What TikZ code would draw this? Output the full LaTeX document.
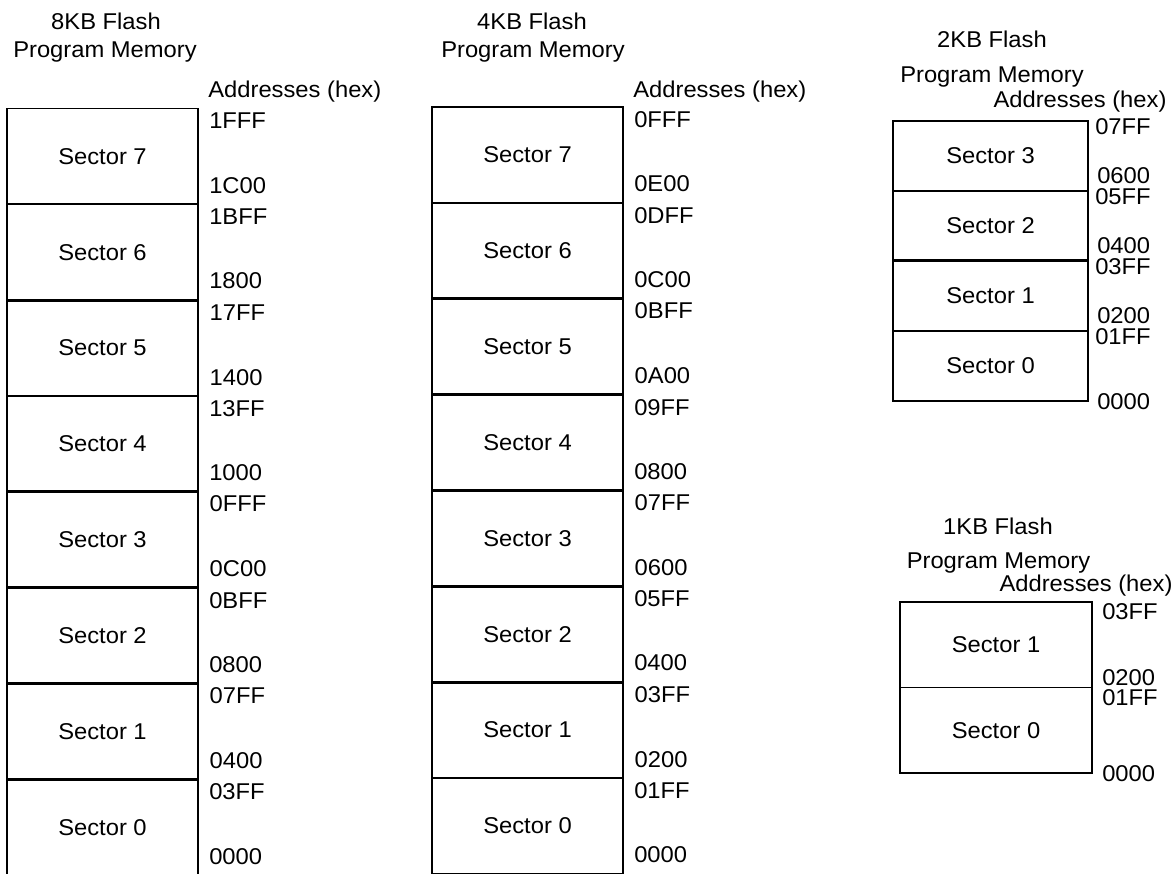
\documentclass[tikz,border=0pt]{standalone}
\usepackage{fontspec}
\setmainfont{Liberation Sans}[FakeStretch=1.04]
\usetikzlibrary{positioning}

\begin{document}
\begin{tikzpicture}[x=0.02cm, y=-0.02cm, font=\fontsize{13}{15}\selectfont,
    sector/.style={draw, line width=1.05pt, inner sep=0pt},
    heavy/.style={line width=1.6pt},
    addr/.style={inner sep=0pt},
    title/.style={inner sep=0pt, anchor=base}]
  \clip (0,0) rectangle (1174,874);

  % 8KB part
  \node[title] (t8a) at (106,30) {8KB Flash};
  \node[title] (t8b) at (105,58) {Program Memory};
  \node[title, anchor=base west] (h8) at (208,98) {Addresses (hex)};
  \foreach \i/\hi/\lo/\st [count=\k from 0] in
      {7/1FFF/1C00/{}, 6/1BFF/1800/{}, 5/17FF/1400/heavy, 4/13FF/1000/{},
       3/0FFF/0C00/heavy, 2/0BFF/0800/{}, 1/07FF/0400/heavy, 0/03FF/0000/{}} {
    \node[sector, \st, minimum width=3.82cm, minimum height=1.917cm]
      (k8s\i) at (102.5, 156.4+95.85*\k) {Sector \i};
    \node[addr, right=0.2cm of k8s\i.north east, yshift=-0.27cm] (k8h\i) {\hi};
    \node[addr, right=0.2cm of k8s\i.south east, yshift=0.4cm] (k8l\i) {\lo};
  }

  % 4KB part
  \node[title] (t4a) at (532,30) {4KB Flash};
  \node[title] (t4b) at (533,58) {Program Memory};
  \node[title, anchor=base west] (h4) at (633,98) {Addresses (hex)};
  \foreach \i/\hi/\lo/\st [count=\k from 0] in
      {7/0FFF/0E00/{}, 6/0DFF/0C00/{}, 5/0BFF/0A00/heavy, 4/09FF/0800/{},
       3/07FF/0600/heavy, 2/05FF/0400/{}, 1/03FF/0200/heavy, 0/01FF/0000/{}} {
    \node[sector, \st, minimum width=3.82cm, minimum height=1.917cm]
      (k4s\i) at (527.5, 155+95.85*\k) {Sector \i};
    \node[addr, right=0.2cm of k4s\i.north east, yshift=-0.27cm] (k4h\i) {\hi};
    \node[addr, right=0.2cm of k4s\i.south east, yshift=0.4cm] (k4l\i) {\lo};
  }

  % 2KB part
  \node[title] (t2a) at (992,48) {2KB Flash};
  \node[title] (t2b) at (992,83) {Program Memory};
  \node[title] (h2) at (1080,108) {Addresses (hex)};
  \foreach \i/\hi/\lo [count=\k from 0] in
      {3/07FF/0600, 2/05FF/0400, 1/03FF/0200, 0/01FF/{}} {
    \node[sector, minimum width=3.9cm, minimum height=1.4cm]
      (k2s\i) at (990.5, 156+70*\k) {Sector \i};
    \node[addr, right=0.12cm of k2s\i.north east, yshift=-0.14cm] (k2h\i) {\hi};
    \node[addr, right=0.16cm of k2s\i.south east, yshift=0.33cm] (k2l\i) {\lo};
  }
  \node[addr, right=0.16cm of k2s0.south east] (k2l0) {0000};
  \draw[heavy] (k2s1.north west) -- (k2s1.north east);

  % 1KB part
  \node[title] (t1a) at (998,535) {1KB Flash};
  \node[title] (t1b) at (998.5,569) {Program Memory};
  \node[title] (h1) at (1086,592) {Addresses (hex)};
  \foreach \i/\hi/\lo [count=\k from 0] in
      {1/03FF/0200, 0/01FF/{}} {
    \node[sector, minimum width=3.84cm, minimum height=1.71cm]
      (k1s\i) at (996, 644.75+85.5*\k) {Sector \i};
    \node[addr, right=0.18cm of k1s\i.north east, yshift=-0.22cm] (k1h\i) {\hi};
    \node[addr, right=0.18cm of k1s\i.south east, yshift=0.22cm] (k1l\i) {\lo};
  }
  \node[addr, right=0.18cm of k1s0.south east] (k1l0) {0000};
\end{tikzpicture}
\end{document}
